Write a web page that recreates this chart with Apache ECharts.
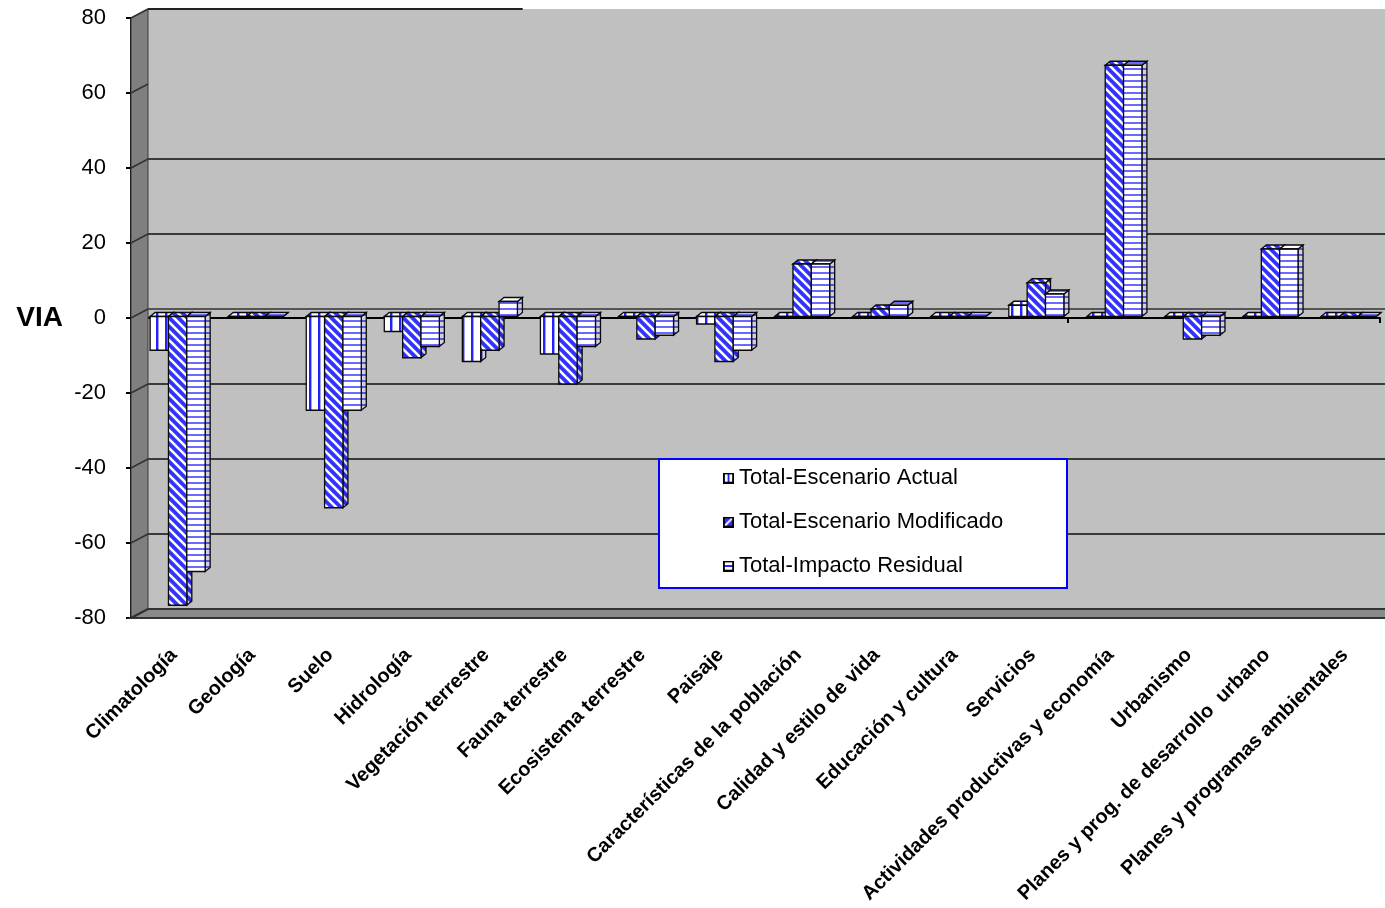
<!DOCTYPE html>
<html>
<head>
<meta charset="utf-8">
<script src="https://cdn.jsdelivr.net/npm/echarts@6/dist/echarts.min.js"></script>
<style>
  html, body { margin: 0; padding: 0; background: #ffffff; }
  #chart { width: 1385px; height: 908px; }
</style>
</head>
<body>
<div id="chart"></div>
<script>
// Valoración de impacto ambiental (VIA) por factor
const categories = [
  'Climatología', 'Geología', 'Suelo', 'Hidrología', 'Vegetación terrestre',
  'Fauna terrestre', 'Ecosistema terrestre', 'Paisaje', 'Características de la población',
  'Calidad y estilo de vida', 'Educación y cultura', 'Servicios',
  'Actividades productivas y economía', 'Urbanismo',
  'Planes y prog. de desarrollo  urbano', 'Planes y programas ambientales'
];
const escenarioActual     = [-9, 0, -25, -4, -12, -10, 0, -2, 0, 0, 0, 3, 0, 0, 0, 0];
const escenarioModificado = [-77, 0, -51, -11, -9, -18, -6, -12, 14, 2, 0, 9, 67, -6, 18, 0];
const impactoResidual     = [-68, 0, -25, -8, 4, -8, -5, -9, 14, 3, 0, 6, 67, -5, 18, 0];
const seriesNames = ['Total-Escenario Actual', 'Total-Escenario Modificado', 'Total-Impacto Residual'];
const yTicks = [-80, -60, -40, -20, 0, 20, 40, 60, 80];

const FONT = '"Liberation Sans", Arial, sans-serif';
const WALL = [17, -9];      // offset of the back wall
const DEPTH = [5, -4];      // depth of each column
const BAR_START = 0.245;    // first column start, fraction of the category band
const BAR_W = 0.235;        // column width, fraction of the category band

// fill patterns for the three series
function patternCanvas(kind) {
  const c = document.createElement('canvas');
  const ctx = c.getContext('2d');
  if (kind === 'vertical') {
    c.width = 9; c.height = 4;
    ctx.fillStyle = '#ffffff'; ctx.fillRect(0, 0, 9, 4);
    ctx.fillStyle = '#2222ff'; ctx.fillRect(3, 0, 2, 4);
    ctx.fillStyle = '#a0a0ff'; ctx.fillRect(5, 0, 1, 4);
  } else if (kind === 'diagonal') {
    c.width = 9; c.height = 9;
    ctx.fillStyle = '#3232ff'; ctx.fillRect(0, 0, 9, 9);
    ctx.strokeStyle = '#ffffff'; ctx.lineWidth = 2.6;
    [-9, 0, 9].forEach(function (k) {
      ctx.beginPath(); ctx.moveTo(k - 1, -1); ctx.lineTo(k + 10, 10); ctx.stroke();
    });
  } else {
    c.width = 4; c.height = 6;
    ctx.fillStyle = '#ffffff'; ctx.fillRect(0, 0, 4, 6);
    ctx.fillStyle = '#6a6aff'; ctx.fillRect(0, 2, 4, 2);
  }
  return c;
}
const kinds = ['vertical', 'diagonal', 'horizontal'];
const patterns = kinds.map(function (k) { return { image: patternCanvas(k), repeat: 'repeat' }; });

// legend swatches
function iconURL(kind) {
  const c = document.createElement('canvas');
  c.width = 12; c.height = 12;
  const ctx = c.getContext('2d');
  ctx.fillStyle = kind === 'diagonal' ? '#3232ff' : '#ffffff';
  ctx.fillRect(0, 0, 12, 12);
  ctx.fillStyle = '#2222ff';
  ctx.strokeStyle = '#ffffff';
  if (kind === 'vertical') ctx.fillRect(5, 1, 2, 10);
  if (kind === 'horizontal') ctx.fillRect(1, 5, 10, 2);
  if (kind === 'diagonal') {
    ctx.lineWidth = 2;
    ctx.beginPath(); ctx.moveTo(1, 11); ctx.lineTo(11, 1); ctx.stroke();
  }
  ctx.strokeStyle = '#000000'; ctx.lineWidth = 2;
  ctx.strokeRect(1, 1, 10, 10);
  return 'image://' + c.toDataURL();
}

// 3-D style column: front face, right side and top
function columnRenderer(k) {
  return function (params, api) {
    const i = api.value(0), v = api.value(1);
    const band = api.size([1, 0])[0];
    const base = api.coord([i, 0]);
    const end = api.coord([i, v]);
    const x0 = base[0] - band / 2 + band * (BAR_START + k * BAR_W);
    const w = band * BAR_W;
    const yb = base[1] - 1.5, yv = end[1] - 1.5;
    const top = Math.min(yb, yv), bot = Math.max(yb, yv);
    const dx = DEPTH[0], dy = DEPTH[1];
    const edge = { stroke: '#0a0a0a', lineWidth: 1.3 };
    const side = [[x0 + w, top], [x0 + w + dx, top + dy], [x0 + w + dx, bot + dy], [x0 + w, bot]];
    const cap = [[x0, top], [x0 + dx, top + dy], [x0 + w + dx, top + dy], [x0 + w, top]];
    const fill = patterns[k];
    return {
      type: 'group',
      children: [
        { type: 'polygon', shape: { points: side }, style: Object.assign({ fill: fill }, edge) },
        { type: 'polygon', shape: { points: side }, style: { fill: 'rgba(0,0,40,0.18)' } },
        { type: 'polygon', shape: { points: cap }, style: Object.assign({ fill: fill }, edge) },
        { type: 'rect', shape: { x: x0, y: top, width: w, height: bot - top }, style: Object.assign({ fill: fill }, edge) }
      ]
    };
  };
}

// side wall, floor and wall tick connectors
function frameRenderer(params, api) {
  const cs = params.coordSys;
  const L = cs.x, R = cs.x + cs.width + 10;
  const yTop = api.coord([0, yTicks[yTicks.length - 1]])[1];
  const yBot = api.coord([0, yTicks[0]])[1];
  const dx = WALL[0], dy = WALL[1];
  const children = [
    { type: 'polygon', shape: { points: [[L, yTop], [L + dx, yTop + dy], [L + dx, yBot + dy], [L, yBot]] },
      style: { fill: '#7f7f7f', stroke: '#3a3a3a', lineWidth: 1 } },
    { type: 'polygon', shape: { points: [[L, yBot], [L + dx, yBot + dy], [R, yBot + dy], [R, yBot]] },
      style: { fill: '#8a8a8a', stroke: '#333333', lineWidth: 2 } },
    { type: 'line', shape: { x1: L + dx, y1: yTop + dy, x2: L + dx + 0.3 * cs.width, y2: yTop + dy },
      style: { stroke: '#222222', lineWidth: 2 } }
  ];
  yTicks.forEach(function (t) {
    const y = api.coord([0, t])[1];
    children.push({ type: 'line', shape: { x1: L, y1: y, x2: L + dx, y2: y + dy },
      style: { stroke: '#333333', lineWidth: 1.5 } });
  });
  return { type: 'group', children: children };
}

const values = [escenarioActual, escenarioModificado, impactoResidual];

const option = {
  animation: false,
  backgroundColor: '#ffffff',
  grid: [
    { left: 131, top: 18, width: 1249, height: 600 },                 // front plane
    { left: 131 + WALL[0], top: 18 + WALL[1], right: 0, height: 600,   // back wall
      show: true, backgroundColor: '#c0c0c0', borderWidth: 0 },
    { left: 135, top: 18, width: 1249, height: 600 }                  // category labels
  ],
  xAxis: [
    { type: 'category', gridIndex: 0, data: categories,
      axisLine: { onZero: true, lineStyle: { color: '#000000', width: 2 } },
      axisTick: { show: true, length: 5, lineStyle: { color: '#000000', width: 2 } },
      axisLabel: { show: false }, splitLine: { show: false } },
    { type: 'category', gridIndex: 1, data: categories, show: false },
    { type: 'category', gridIndex: 2, data: categories,
      axisLine: { show: false, onZero: false }, axisTick: { show: false },
      axisLabel: { interval: 0, rotate: 45, margin: 34, color: '#000000',
        fontFamily: FONT, fontWeight: 'bold', fontSize: 20 } }
  ],
  yAxis: [
    { type: 'value', gridIndex: 0, min: -80, max: 80, interval: 20,
      name: 'VIA', nameLocation: 'middle', nameRotate: 0, nameGap: 68,
      nameTextStyle: { fontFamily: FONT, fontWeight: 'bold', fontSize: 28, color: '#000000' },
      axisLine: { show: true, onZero: false, lineStyle: { color: '#000000', width: 2 } },
      axisTick: { show: true, length: 5, lineStyle: { color: '#000000', width: 2 } },
      axisLabel: { margin: 25, fontFamily: FONT, fontSize: 22, color: '#000000' },
      splitLine: { show: false } },
    { type: 'value', gridIndex: 1, min: -80, max: 80, interval: 20,
      axisLine: { show: false }, axisTick: { show: false }, axisLabel: { show: false },
      splitLine: { show: true, lineStyle: { width: 2,
        color: ['#3a3a3a', '#3a3a3a', '#3a3a3a', '#3a3a3a', '#555555', '#3a3a3a', '#3a3a3a', 'rgba(0,0,0,0)', 'rgba(0,0,0,0)'] } } },
    { type: 'value', gridIndex: 2, min: -80, max: 80, show: false }
  ],
  legend: {
    orient: 'vertical', left: 723, top: 467, padding: 0, z: 5,
    itemWidth: 11, itemHeight: 11, itemGap: 22,
    textStyle: { fontFamily: FONT, fontSize: 22, lineHeight: 22, color: '#000000' },
    data: seriesNames.map(function (n, k) { return { name: n, icon: iconURL(kinds[k]) }; })
  },
  graphic: [
    { type: 'rect', left: 658, top: 458, z: 3,
      shape: { width: 408, height: 129 },
      style: { fill: '#ffffff', stroke: '#0000ff', lineWidth: 2 } }
  ],
  series: [
    { type: 'custom', name: 'frame', xAxisIndex: 0, yAxisIndex: 0, z: 1, silent: true,
      data: [[0, 0]], renderItem: frameRenderer }
  ].concat(seriesNames.map(function (n, k) {
    return {
      type: 'custom', name: n, xAxisIndex: 0, yAxisIndex: 0, z: 3,
      itemStyle: { color: k === 1 ? '#3232ff' : '#ffffff' },
      encode: { x: 0, y: 1 },
      data: values[k].map(function (v, i) { return [i, v]; }),
      renderItem: columnRenderer(k)
    };
  }))
};

const chart = echarts.init(document.getElementById('chart'), null, { renderer: 'canvas' });
chart.setOption(option);
</script>
</body>
</html>
